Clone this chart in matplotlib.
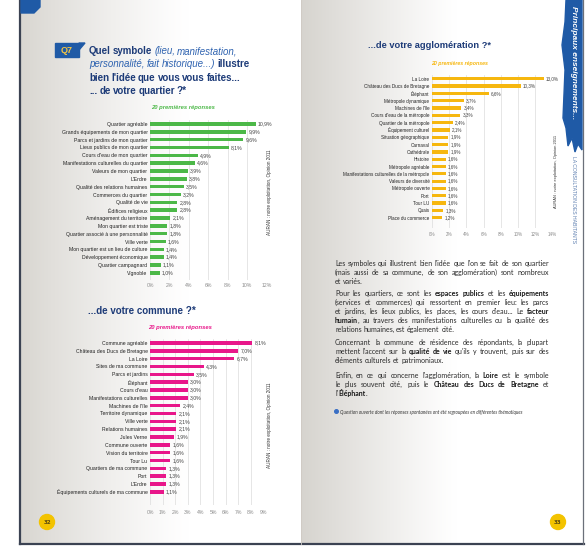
import numpy as np
import matplotlib
matplotlib.use('Agg')
import matplotlib.pyplot as plt
from matplotlib import font_manager
from matplotlib.patches import Polygon, Circle, Rectangle

quartier_labels = [
    "Quartier agréable", "Grands équipements de mon quartier", "Parcs et jardins de mon quartier",
    "Lieux publics de mon quartier", "Cours d'eau de mon quartier", "Manifestations culturelles du quartier",
    "Valeurs de mon quartier", "L'Erdre", "Qualité des relations humaines", "Commerces du quartier",
    "Qualité de vie", "Édifices religieux", "Aménagement du territoire", "Mon quartier est triste",
    "Quartier associé à une personnalité", "Ville verte", "Mon quartier est un lieu de culture",
    "Développement économique", "Quartier campagnard", "Vignoble",
]
quartier_values = [10.9, 9.9, 9.6, 8.1, 4.9, 4.6, 3.9, 3.8, 3.5, 3.2,
                   2.8, 2.8, 2.1, 1.8, 1.8, 1.6, 1.4, 1.4, 1.1, 1.0]
quartier_ticks = [0, 2, 4, 6, 8, 10, 12]

commune_labels = [
    "Commune agréable", "Château des Ducs de Bretagne", "La Loire", "Sites de ma commune",
    "Parcs et jardins", "Éléphant", "Cours d'eau", "Manifestations culturelles", "Machines de l'île",
    "Territoire dynamique", "Ville verte", "Relations humaines", "Jules Verne", "Commune ouverte",
    "Vision du territoire", "Tour Lu", "Quartiers de ma commune", "Port", "L'Erdre",
    "Équipements culturels de ma commune",
]
commune_values = [8.1, 7.0, 6.7, 4.3, 3.5, 3.0, 3.0, 3.0, 2.4, 2.1,
                  2.1, 2.1, 1.9, 1.6, 1.6, 1.6, 1.3, 1.3, 1.3, 1.1]
commune_ticks = [0, 1, 2, 3, 4, 5, 6, 7, 8, 9]

agglo_labels = [
    "La Loire", "Château des Ducs de Bretagne", "Éléphant", "Métropole dynamique", "Machines de l'île",
    "Cours d'eau de la métropole", "Quartier de la métropole", "Équipement culturel",
    "Situation géographique", "Carnaval", "Cathédrale", "Histoire", "Métropole agréable",
    "Manifestations culturelles de la métropole", "Valeurs de diversité", "Métropole ouverte",
    "Port", "Tour LU", "Quais", "Place du commerce",
]
agglo_values = [13.0, 10.3, 6.6, 3.7, 3.4, 3.3, 2.4, 2.1, 1.9, 1.9,
                1.9, 1.6, 1.6, 1.6, 1.6, 1.6, 1.6, 1.6, 1.3, 1.2]
agglo_ticks = [0, 2, 4, 6, 8, 10, 12, 14]

source_text = "AURAN : notre exploitation, Opinion 2011"

# "_" switches between the two styles of a line
title_lines = [
    "Quel symbole _(lieu, manifestation,_",
    "_personnalité, fait historique...)_ illustre",
    "bien l'idée que vous vous faites...",
    "... de votre quartier ?*",
]
paragraphs = [
    ["Les symboles qui illustrent bien l'idée que l'on se fait de son quartier",
     "(mais aussi de sa commune, de son agglomération) sont nombreux",
     "et variés."],
    ["Pour les quartiers, ce sont les _espaces publics_ et les _équipements_",
     "(services et commerces) qui ressortent en premier lieu: les parcs",
     "et jardins, les lieux publics, les places, les cours d'eau... Le _facteur_",
     "_humain_, au travers des manifestations culturelles ou la qualité des",
     "relations humaines, est également cité."],
    ["Concernant la commune de résidence des répondants, la plupart",
     "mettent l'accent sur la _qualité de vie_ qu'ils y trouvent, puis sur des",
     "éléments culturels et patrimoniaux."],
    ["Enfin, en ce qui concerne l'agglomération, la _Loire_ est le symbole",
     "le plus souvent cité, puis le _Château des Ducs de Bretagne_ et",
     "l'_Éléphant_."],
]
footnote = "Question ouverte dont les réponses spontanées ont été regroupées en différentes thématiques"

# ---- fonts / colours ----
installed = {f.name for f in font_manager.fontManager.ttflist}
NARROW = 'Liberation Sans' if 'Liberation Sans' in installed else 'DejaVu Sans'
BODY = 'Lato' if 'Lato' in installed else 'DejaVu Sans'

NAVY = '#1d3b78'
BLUE = '#2f63b0'
GREEN = '#4cb848'
PINK = '#e8178a'
YELLOW = '#f6b70f'

W, H = 588, 546
fig = plt.figure(figsize=(W / 100, H / 100), dpi=100, facecolor='white')
bg = fig.add_axes([0, 0, 1, 1])
bg.set_xlim(0, W)
bg.set_ylim(H, 0)
bg.axis('off')
renderer = fig.canvas.get_renderer()

# page backgrounds (grey shading fading to white)
t = np.linspace(0, 1, 200)
left_shade = np.clip(1 - t / 0.6, 0, 1) ** 1.2
left_img = np.ones((2, 200, 3))
for k, c in enumerate((0.85, 0.84, 0.82)):
    left_img[:, :, k] = 1 - (1 - c) * left_shade
bg.imshow(left_img, extent=[20, 301, 544, 0], aspect='auto', zorder=0)

right_shade = np.clip(1 - t / 0.55, 0, 1) ** 1.1
right_img = np.ones((2, 200, 3))
for k, c in enumerate((0.84, 0.83, 0.81)):
    right_img[:, :, k] = 1 - (1 - c) * right_shade
bg.imshow(right_img, extent=[301, 583, 544, 0], aspect='auto', zorder=0)

# booklet edges
bg.plot([20, 20], [0, 544], color='#3b4252', lw=1.6, zorder=1)
bg.plot([20, 584], [544, 544], color='#3b4252', lw=1.6, zorder=1)
bg.plot([583, 583], [0, 544], color='#6b707a', lw=0.9, zorder=1)
bg.plot([301, 301], [0, 544], color='#cfcac4', lw=0.6, zorder=1)

# top-left blue tab, Q7 box
bg.add_patch(Polygon([(21, 0), (40, 0), (40, 7), (34, 13), (21, 13)], color='#1f5aa6', zorder=2))
bg.add_patch(Rectangle((55, 43), 24, 14, color='#1f5aa6', zorder=2))
bg.add_patch(Polygon([(79, 43), (85, 43), (79, 50)], color='#1f5aa6', zorder=2))
bg.text(67, 50.5, "Q7", ha='center', va='center', fontsize=6.5, fontweight='bold',
        color='#f4c542', family=NARROW, zorder=3)

# right blue band with vertical header
bg.add_patch(Polygon([(566, 0), (582, 0), (582, 150), (578, 144), (575, 152), (572, 138),
                      (568, 146), (566, 128), (563, 118), (565, 70), (562, 45), (565, 22)],
                     color='#1f5aa6', zorder=2))
bg.text(573, 6, "Principaux enseignements...", rotation=270, ha='center', va='top',
        fontsize=6, fontweight='bold', style='italic', color='white', family=NARROW, zorder=3)
bg.text(573, 156, "LA CONSULTATION DES HABITANTS", rotation=270, ha='center', va='top',
        fontsize=3.7, color='#5d7fb0', family=NARROW, zorder=3)

# page numbers
for (px, py), num in zip([(47, 522), (558, 522)], ["32", "33"]):
    bg.add_patch(Circle((px, py), 7.5, color='#f3c300', zorder=2))
    bg.text(px, py, num, ha='center', va='center', fontsize=4, fontweight='bold',
            color='#5a4a10', zorder=3)


def parse(line, style_a, style_b):
    words, alt = [], False
    for raw in line.split(' '):
        pieces = []
        for k, part in enumerate(raw.split('_')):
            if k > 0:
                alt = not alt
            if part:
                pieces.append((part, style_b if alt else style_a))
        words.append(pieces)
    return words


def place_words(x, y, words, space, width=None):
    items = []
    for word in words:
        parts = []
        for txt, kw in word:
            txt_obj = bg.text(0, y, txt, ha='left', va='baseline', zorder=3, **kw)
            parts.append((txt_obj, txt_obj.get_window_extent(renderer).width))
        items.append(parts)
    sizes = [sum(w for _, w in parts) for parts in items]
    gap = space
    if width is not None and len(items) > 1:
        gap = max((width - sum(sizes)) / (len(items) - 1), space * 0.6)
    cx = x
    for parts, size in zip(items, sizes):
        px = cx
        for txt_obj, w in parts:
            txt_obj.set_x(px)
            px += w
        cx += size + gap


# left page question title
t_bold = dict(fontsize=7.0, fontweight='bold', color=NAVY, family=NARROW)
t_ital = dict(fontsize=7.0, style='italic', color=BLUE, family=NARROW)
for i, line in enumerate(title_lines):
    place_words(89, 54 + i * 13.4, parse(line, t_bold, t_ital), space=2.0)

bg.text(88, 314, "...de votre commune ?*", ha='left', va='baseline', zorder=3, **t_bold)
bg.text(368, 48.5, "...de votre agglomération ?*", ha='left', va='baseline', zorder=3,
        **dict(t_bold, fontsize=6.7))

# right page body text, justified
p_norm = dict(fontsize=5.0, color='#2b2b2b', family=BODY)
p_bold = dict(fontsize=5.0, color='#1a1a1a', family=BODY, fontweight='bold')
para_y = [266, 296, 345, 378]
for y0, para in zip(para_y, paragraphs):
    for j, line in enumerate(para):
        last = j == len(para) - 1
        place_words(335, y0 + j * 9.1, parse(line, p_norm, p_bold), space=1.6,
                    width=None if last else 214)

bg.add_patch(Circle((336.5, 411.5), 1.8, color='#3a6fc4', zorder=3))
bg.text(340, 414, footnote, ha='left', va='baseline', fontsize=3.3, style='italic',
        color='#333333', family=BODY, zorder=3)


def px_axes(x0, y0, x1, y1):
    return fig.add_axes([x0 / W, 1 - y1 / H, (x1 - x0) / W, (y1 - y0) / H])


def bar_chart(box, labels, values, ticks, color, bottom, subtitle, sub_xy,
              src_xy, lab_size, pad):
    ax = px_axes(*box)
    ax.set_facecolor('none')
    ypos = np.arange(len(values))
    ax.barh(ypos, values, height=0.45, color=color, zorder=3)
    ax.set_xlim(ticks[0], ticks[-1])
    ax.set_ylim(bottom, -0.5)
    ax.set_yticks(ypos, labels, fontsize=lab_size, family=NARROW, color='#222222')
    ax.set_xticks(ticks, [f"{v}%" for v in ticks], fontsize=lab_size,
                  family=NARROW, color='#8c8c8c')
    ax.tick_params(axis='y', length=0, pad=1.8)
    ax.tick_params(axis='x', length=0, pad=pad)
    ax.grid(axis='x', color='#dcdcdc', lw=0.5)
    ax.set_axisbelow(True)
    for s in ax.spines.values():
        s.set_visible(False)
    for v, yy in zip(values, ypos):
        ax.annotate(f"{v:.1f}%".replace('.', ','), (v, yy), xytext=(1.6, 0),
                    textcoords='offset points', va='center', fontsize=lab_size,
                    family=NARROW, color='#444444')
    bg.text(sub_xy[0], sub_xy[1], subtitle, ha='center', va='center', fontsize=lab_size + 0.5,
            fontweight='bold', style='italic', color=color, family=NARROW, zorder=3)
    bg.text(src_xy[0], src_xy[1], source_text, rotation=90, ha='center', va='center',
            fontsize=lab_size - 0.4, color='#333333', family=NARROW, zorder=3)
    return ax


bar_chart((150, 120, 266.4, 280), quartier_labels, quartier_values, quartier_ticks, GREEN,
          19.9, "20 premières réponses", (183, 108), (270, 192), 3.7, 2.5)
bar_chart((150, 339, 263.4, 505), commune_labels, commune_values, commune_ticks, PINK,
          20.67, "20 premières réponses", (180, 328), (270, 425), 3.7, 3.5)
bar_chart((432, 75, 552.4, 228), agglo_labels, agglo_values, agglo_ticks, YELLOW,
          20.4, "20 premières réponses", (460, 63), (556, 171), 3.3, 3.0)

fig.savefig('out.png', dpi=100, facecolor='white')
